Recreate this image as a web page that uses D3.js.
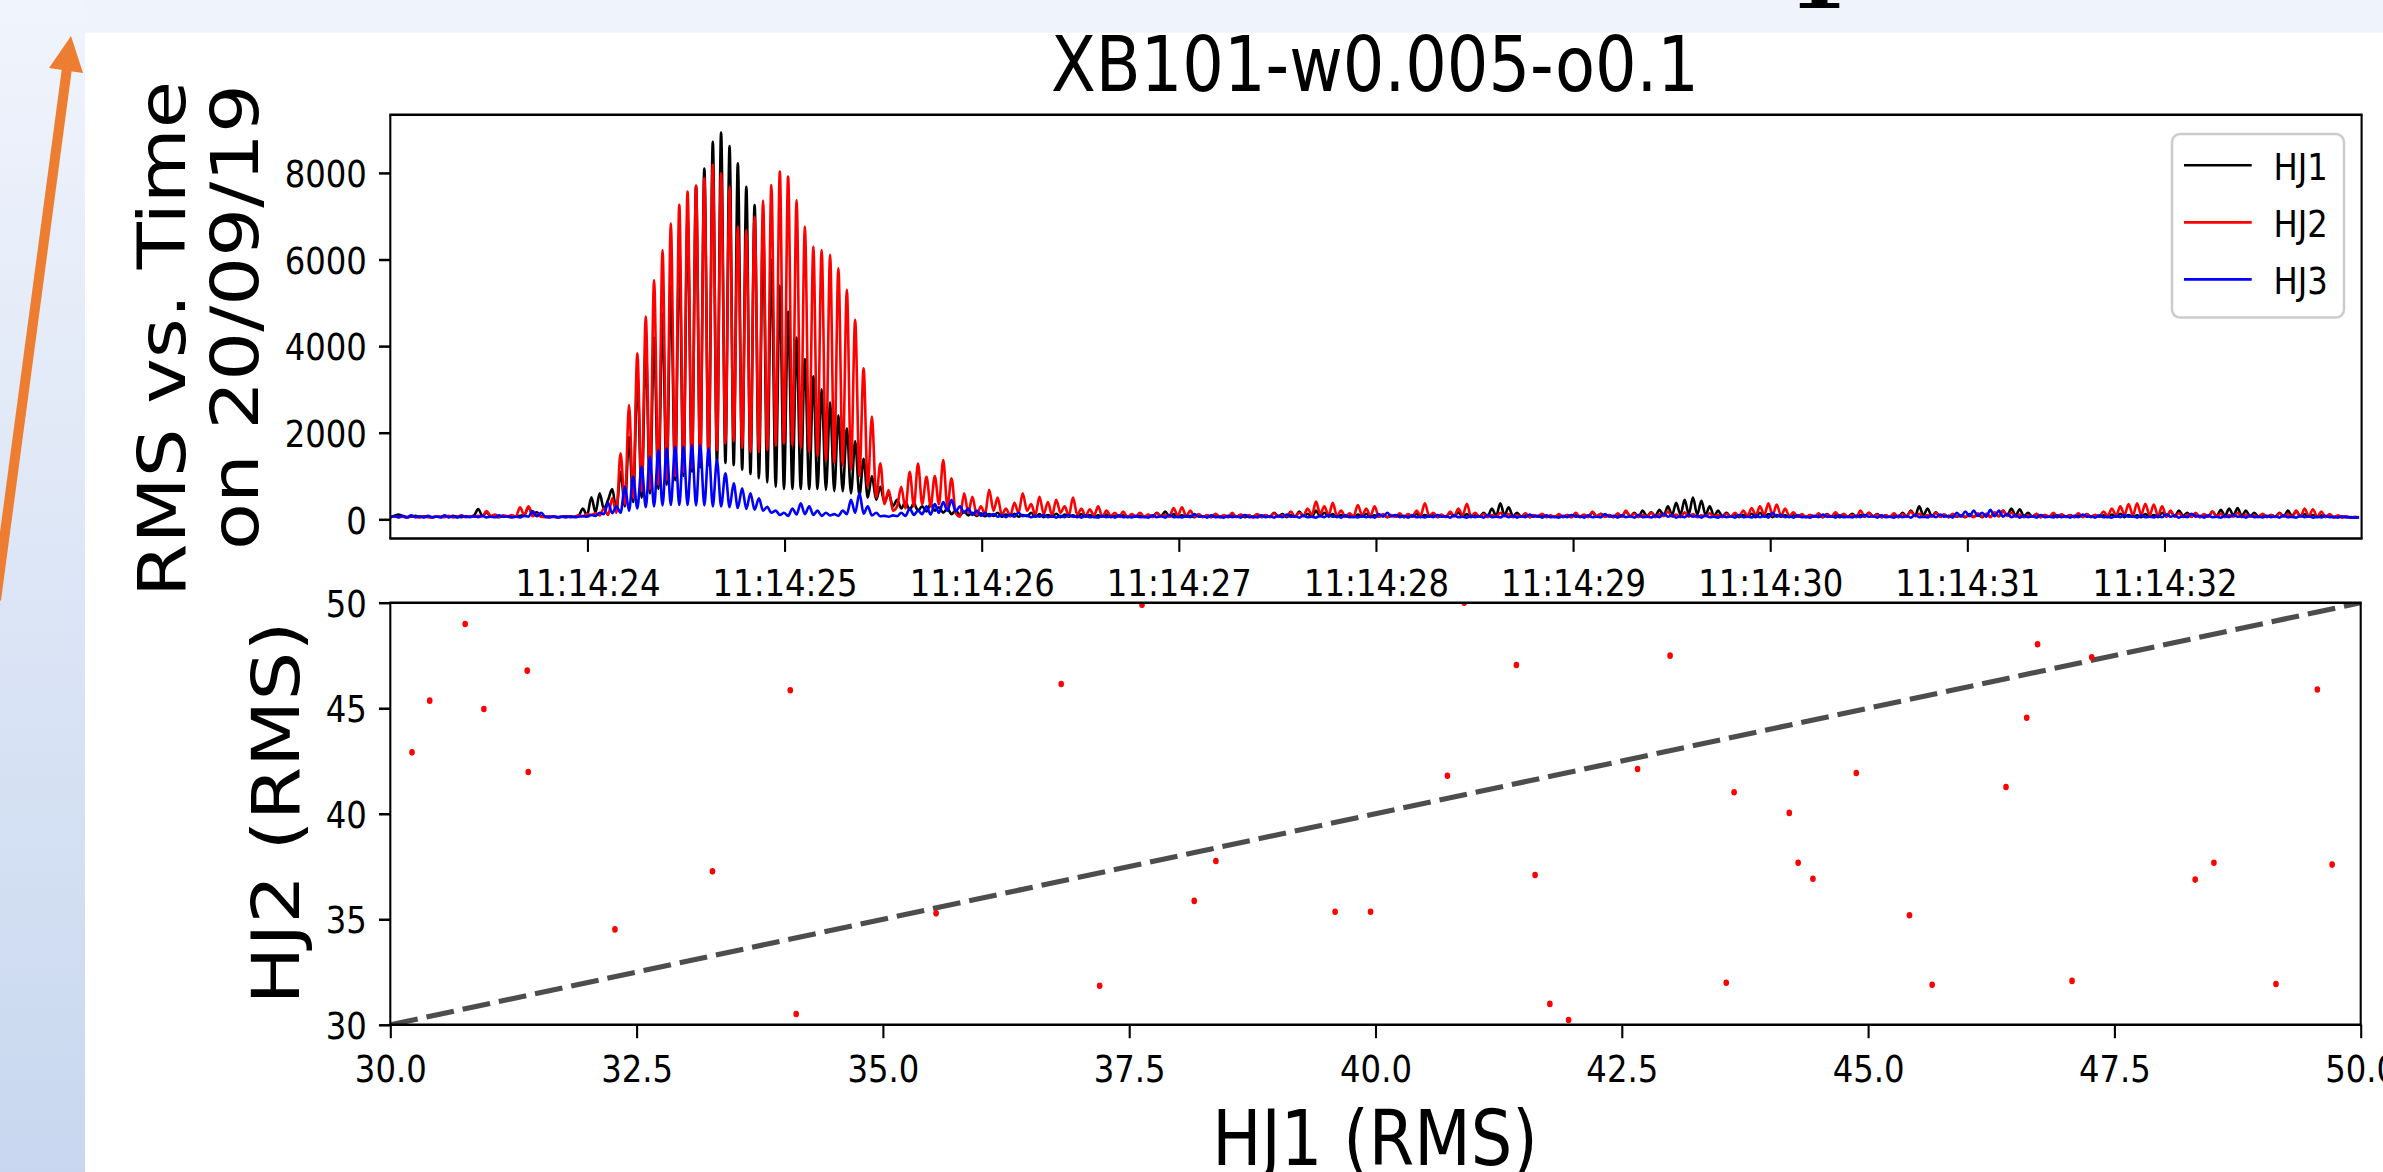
<!DOCTYPE html>
<html>
<head>
<meta charset="utf-8">
<script src="https://cdn.jsdelivr.net/npm/d3@7"></script>
<style>
  html, body { margin: 0; padding: 0; background: #fff; }
  svg { display: block; }
</style>
</head>
<body>
<svg id="chart" width="2383" height="1172"></svg>
<script>
/* ---------- data ---------- */
const seriesNames = ['HJ1', 'HJ2', 'HJ3'];
const sampleStart = '2019-09-20 11:14:23';
const sampleStepMs = 21.25;

// RMS per sample
const hj1Rms = [
  60, 80, 110, 70, 50, 60, 80, 50, 70, 60, 45, 65, 55, 70, 50, 80, 60, 50, 70, 60,
  90, 240, 80, 150, 70, 60, 50, 70, 60, 50, 60, 80, 100, 280, 120, 160, 70, 60, 50, 60,
  50, 60, 70, 50, 60, 90, 250, 90, 510, 160, 600, 250, 450, 700, 200, 1100, 300, 1900, 400, 3300,
  500, 4000, 600, 4200, 700, 4750, 800, 5400, 900, 6300, 1000, 7000, 1100, 7700, 1200, 8100, 1250, 8720, 1300, 8930,
  1300, 8620, 1250, 8220, 1150, 7680, 1050, 7260, 950, 6800, 850, 6000, 750, 5400, 700, 4800, 700, 4200, 700, 3700,
  700, 3300, 700, 3000, 680, 2700, 650, 2400, 650, 2100, 600, 1800, 550, 1400, 500, 1000, 450, 750, 400, 600,
  300, 450, 250, 400, 220, 370, 200, 300, 180, 350, 200, 280, 150, 250, 120, 200, 100, 180, 90, 150,
  80, 140, 70, 120, 80, 150, 60, 110, 70, 130, 60, 100, 70, 150, 60, 120, 50, 100, 60, 130,
  50, 110, 60, 90, 50, 120, 60, 100, 50, 90, 60, 110, 50, 80, 60, 100, 50, 90, 60, 80,
  50, 100, 60, 150, 70, 180, 60, 120, 50, 90, 60, 80, 50, 100, 60, 90, 50, 110, 60, 80,
  50, 90, 60, 100, 50, 80, 60, 110, 50, 90, 60, 150, 70, 120, 50, 100, 60, 180, 70, 130,
  60, 200, 70, 150, 60, 120, 50, 100, 60, 90, 50, 110, 60, 130, 50, 90, 60, 100, 50, 80,
  60, 110, 50, 90, 60, 130, 50, 100, 60, 120, 50, 90, 60, 140, 70, 160, 60, 120, 50, 110,
  60, 150, 70, 250, 80, 370, 90, 280, 70, 150, 60, 110, 50, 90, 60, 100, 50, 80, 60, 90,
  50, 100, 60, 120, 50, 90, 60, 150, 70, 130, 60, 100, 50, 120, 60, 180, 70, 150, 60, 200,
  70, 160, 80, 220, 90, 300, 100, 380, 110, 450, 120, 500, 110, 430, 100, 300, 80, 200, 70, 150,
  60, 120, 50, 100, 60, 130, 50, 150, 60, 120, 50, 100, 60, 90, 50, 110, 60, 80, 50, 100,
  60, 90, 50, 120, 60, 100, 50, 90, 60, 130, 50, 100, 60, 150, 70, 120, 50, 90, 60, 110,
  50, 150, 70, 200, 80, 300, 90, 250, 70, 160, 60, 110, 50, 100, 60, 90, 50, 120, 60, 100,
  50, 130, 60, 150, 70, 200, 80, 250, 90, 230, 70, 150, 60, 120, 50, 100, 60, 90, 50, 110,
  60, 100, 50, 90, 60, 120, 50, 100, 60, 90, 50, 110, 60, 130, 50, 100, 60, 90, 50, 120,
  60, 100, 50, 150, 60, 180, 70, 200, 80, 150, 60, 120, 50, 100, 60, 180, 70, 220, 80, 250,
  90, 260, 80, 200, 70, 150, 60, 110, 50, 100, 60, 150, 70, 200, 80, 180, 70, 120, 60, 100,
  50, 90, 60, 80, 50, 70, 45, 60, 40, 50, 45
];
const hj2Rms = [
  50, 70, 45, 60, 40, 75, 55, 45, 65, 50, 40, 70, 60, 50, 80, 45, 60, 90, 50, 70,
  60, 80, 70, 190, 80, 110, 60, 90, 70, 100, 60, 280, 90, 300, 70, 120, 60, 50, 70, 55,
  45, 60, 50, 70, 60, 90, 70, 120, 100, 140, 90, 250, 100, 485, 150, 1525, 350, 2640, 500, 3835,
  650, 4680, 700, 5528, 800, 6221, 900, 6838, 1000, 7261, 1100, 7568, 1200, 7700, 1350, 7877, 1450, 8185, 1600, 7993,
  1750, 7683, 1800, 6760, 1650, 6683, 1550, 6991, 1550, 7360, 1600, 7722, 1700, 8030, 1750, 7915, 1700, 7376, 1650, 6760,
  1550, 6298, 1450, 6221, 1350, 6106, 1300, 5798, 1250, 5298, 1150, 4605, 1000, 3488, 750, 2371, 500, 1293, 350, 677,
  200, 300, 750, 250, 1100, 300, 1290, 350, 980, 300, 1000, 350, 1370, 300, 950, 150, 60, 600, 150, 520,
  100, 300, 120, 680, 200, 500, 100, 250, 80, 380, 150, 600, 200, 350, 100, 520, 120, 400, 90, 450,
  150, 300, 80, 500, 100, 250, 70, 230, 90, 300, 60, 200, 80, 150, 60, 180, 50, 120, 70, 150,
  60, 110, 50, 140, 70, 100, 60, 260, 80, 280, 70, 200, 60, 120, 50, 90, 60, 130, 45, 100,
  60, 150, 50, 110, 70, 90, 40, 120, 60, 100, 50, 140, 60, 90, 70, 180, 60, 150, 80, 250,
  100, 410, 120, 300, 90, 380, 80, 200, 60, 140, 70, 330, 90, 250, 70, 300, 60, 120, 50, 100,
  60, 140, 50, 120, 70, 200, 90, 370, 80, 150, 60, 110, 50, 180, 70, 250, 90, 360, 70, 150,
  60, 120, 50, 100, 60, 150, 70, 120, 50, 90, 60, 140, 50, 100, 70, 130, 60, 90, 50, 120,
  60, 100, 45, 150, 60, 110, 50, 180, 70, 120, 60, 90, 50, 140, 60, 200, 70, 130, 50, 100,
  60, 150, 50, 120, 70, 180, 60, 110, 50, 160, 60, 120, 50, 90, 70, 140, 60, 100, 50, 130,
  60, 150, 70, 200, 80, 260, 90, 300, 100, 370, 90, 340, 80, 250, 70, 160, 60, 120, 50, 100,
  60, 140, 50, 110, 60, 160, 70, 130, 50, 100, 60, 200, 70, 150, 60, 110, 50, 90, 60, 140,
  50, 120, 60, 180, 70, 130, 50, 100, 60, 150, 60, 110, 50, 130, 70, 100, 60, 90, 50, 140,
  60, 120, 50, 160, 70, 200, 80, 150, 60, 110, 50, 90, 60, 130, 50, 100, 60, 150, 70, 110,
  50, 90, 60, 140, 50, 120, 60, 100, 70, 180, 80, 250, 90, 300, 100, 350, 90, 370, 100, 360,
  90, 340, 80, 300, 70, 200, 60, 140, 50, 110, 60, 150, 50, 120, 60, 180, 70, 130, 50, 100,
  60, 150, 50, 110, 60, 90, 50, 130, 60, 100, 50, 140, 60, 120, 50, 200, 60, 250, 70, 230,
  60, 180, 50, 120, 40, 90, 40, 70, 40, 50, 40
];
const hj3Rms = [
  40, 70, 50, 80, 45, 90, 50, 70, 40, 80, 50, 60, 45, 90, 50, 70, 40, 80, 60, 50,
  70, 50, 80, 45, 60, 50, 90, 60, 70, 50, 60, 45, 80, 60, 190, 70, 150, 60, 50, 70,
  45, 60, 50, 70, 50, 60, 70, 60, 100, 80, 150, 120, 370, 140, 300, 150, 754, 200, 985, 250,
  1216, 280, 1447, 300, 1601, 320, 1640, 330, 1678, 330, 1678, 330, 1716, 320, 1716, 320, 1640, 300, 1370, 300,
  1062, 280, 831, 260, 716, 240, 600, 220, 485, 200, 290, 150, 200, 100, 150, 80, 250, 110, 370, 120,
  300, 100, 200, 80, 150, 90, 120, 80, 200, 120, 450, 150, 600, 130, 300, 90, 150, 70, 80, 60,
  90, 70, 150, 80, 250, 100, 200, 120, 300, 110, 350, 150, 400, 200, 450, 180, 300, 150, 250, 100,
  200, 80, 150, 70, 120, 60, 100, 50, 110, 60, 150, 70, 90, 50, 80, 60, 100, 50, 70, 40,
  80, 50, 100, 60, 70, 40, 90, 50, 60, 40, 80, 50, 70, 40, 90, 50, 60, 45, 80, 50,
  60, 40, 90, 50, 70, 40, 100, 50, 60, 45, 80, 50, 120, 60, 70, 40, 90, 50, 60, 40,
  80, 50, 70, 40, 100, 50, 60, 45, 90, 50, 70, 40, 80, 50, 110, 60, 70, 40, 90, 50,
  60, 40, 80, 50, 100, 60, 70, 40, 90, 50, 60, 45, 80, 50, 70, 40, 120, 60, 150, 70,
  100, 50, 80, 40, 90, 50, 60, 45, 80, 50, 100, 60, 70, 40, 90, 50, 60, 40, 80, 50,
  70, 40, 100, 50, 60, 45, 90, 50, 80, 40, 70, 50, 110, 60, 80, 40, 90, 50, 60, 40,
  80, 50, 100, 60, 70, 40, 90, 50, 60, 45, 120, 60, 80, 40, 90, 50, 70, 40, 100, 50,
  60, 45, 80, 50, 130, 60, 90, 40, 70, 50, 100, 60, 80, 40, 90, 50, 60, 40, 80, 50,
  70, 40, 100, 50, 60, 45, 90, 50, 80, 40, 150, 60, 100, 50, 70, 40, 90, 50, 60, 40,
  80, 50, 110, 60, 70, 40, 90, 50, 60, 45, 80, 50, 100, 60, 70, 40, 90, 50, 60, 40,
  80, 50, 70, 40, 100, 50, 60, 45, 90, 50, 110, 60, 80, 40, 150, 60, 180, 70, 200, 80,
  150, 60, 220, 70, 200, 60, 130, 50, 90, 40, 80, 50, 70, 40, 100, 50, 60, 45, 90, 50,
  70, 40, 80, 50, 110, 60, 70, 40, 90, 50, 60, 40, 80, 50, 100, 60, 70, 40, 90, 50,
  60, 45, 80, 50, 110, 60, 90, 40, 70, 50, 130, 60, 80, 40, 90, 50, 60, 40, 80, 50,
  100, 60, 70, 40, 90, 50, 60, 45, 80, 50, 70, 40, 90, 50, 60, 40, 80, 50, 70, 40,
  60, 45, 80, 50, 60, 40, 70, 45, 50, 40, 45
];

const timeTicks = ['11:14:24', '11:14:25', '11:14:26', '11:14:27', '11:14:28',
                   '11:14:29', '11:14:30', '11:14:31', '11:14:32'];
const rmsTicks = [0, 2000, 4000, 6000, 8000];

// scatter: HJ1 vs HJ2 (RMS)
const scatterHJ1 = [30.22, 30.40, 30.76, 30.95, 31.39, 31.40, 32.28, 33.27, 34.06, 34.12, 35.54,
  36.81, 37.20, 37.63, 38.16, 38.38, 39.59, 39.95, 40.73, 40.90, 41.43, 41.62, 41.77, 41.96,
  42.66, 42.99, 43.56, 43.64, 44.20, 44.29, 44.44, 44.88, 45.42, 45.65, 46.40, 46.61, 46.72,
  47.07, 47.27, 48.32, 48.51, 49.14, 49.56, 49.71];
const scatterHJ2 = [42.91, 45.36, 48.99, 44.96, 46.78, 41.98, 34.52, 37.27, 45.85, 30.51, 35.28,
  46.15, 31.85, 49.90, 35.87, 37.76, 35.36, 35.36, 41.80, 50.00, 47.05, 37.10, 30.99, 30.23,
  42.12, 47.49, 31.99, 41.02, 40.04, 37.68, 36.92, 41.93, 35.19, 31.90, 41.27, 44.55, 48.03,
  32.08, 47.41, 36.88, 37.68, 31.93, 45.89, 37.59];
const hj1Ticks = [30, 32.5, 35, 37.5, 40, 42.5, 45, 47.5, 50];
const hj2Ticks = [30, 35, 40, 45, 50];

/* ---------- layout ---------- */
const W = 2383, H = 1172;
const SX = 0.85;               // figure is squeezed sideways on the slide
const FONT = '"DejaVu Sans", sans-serif';
const TICK_FS = 38, LABEL_FS = 77;
const colors = { HJ1: '#000000', HJ2: '#ff0000', HJ3: '#0000ff' };

const topBox = { left: 390.3, right: 2361.6, top: 114.8, bottom: 538.5 };
const botBox = { left: 390.3, right: 2360.7, top: 602.7, bottom: 1024.8 };

const svg = d3.select('#chart');

/* ---------- slide background ---------- */
const defs = svg.append('defs');
const grad = defs.append('linearGradient').attr('id', 'slideGrad')
  .attr('x1', 0).attr('y1', 0).attr('x2', 0).attr('y2', 1);
grad.append('stop').attr('offset', '0%').attr('stop-color', '#f0f4fc');
grad.append('stop').attr('offset', '100%').attr('stop-color', '#c8d7ef');

svg.append('rect').attr('width', W).attr('height', H).attr('fill', 'url(#slideGrad)');
svg.append('rect').attr('x', 85).attr('y', 0).attr('width', W - 85).attr('height', 33)
  .attr('fill', '#eff3fc');
svg.append('rect').attr('x', 85).attr('y', 32.7).attr('width', W - 85).attr('height', H - 32.7)
  .attr('fill', '#ffffff');

// bottom of the slide title, cut off by the top edge
svg.append('text')
  .attr('x', 1818).attr('y', 8.4)
  .attr('text-anchor', 'middle')
  .attr('font-family', '"DejaVu Serif", serif')
  .attr('font-weight', 'bold')
  .attr('font-size', 86)
  .attr('fill', '#000')
  .text('1');

// orange arrow
svg.append('line')
  .attr('x1', -4).attr('y1', 600).attr('x2', 67).attr('y2', 68)
  .attr('stroke', '#ed7d31').attr('stroke-width', 10);
svg.append('polygon')
  .attr('points', '71,36 49,68 83,73')
  .attr('fill', '#ed7d31');

/* ---------- helpers ---------- */
function squish(x, y, rot) {
  return `translate(${x},${y}) scale(${SX},1)` + (rot ? ` rotate(${rot})` : '');
}

function addText(parent, str, x, y, size, anchor, rot) {
  return parent.append('text')
    .attr('transform', squish(x, y, rot))
    .attr('text-anchor', anchor || 'middle')
    .attr('font-family', FONT)
    .attr('font-size', size)
    .attr('fill', '#000')
    .text(str);
}

function styleLeft(g) {
  g.attr('font-family', null).attr('font-size', null);
  g.select('.domain').remove();
  g.selectAll('.tick line').attr('stroke', '#000').attr('stroke-width', 2.5);
  g.selectAll('.tick text')
    .attr('x', null).attr('dy', '0.36em')
    .attr('fill', '#000')
    .attr('font-family', FONT).attr('font-size', TICK_FS)
    .attr('text-anchor', 'end')
    .attr('transform', squish(-23.5, 0));
}

function styleBottom(g) {
  g.attr('font-family', null).attr('font-size', null);
  g.select('.domain').remove();
  g.selectAll('.tick line').attr('stroke', '#000').attr('stroke-width', 2.1);
  g.selectAll('.tick text')
    .attr('y', null).attr('dy', null)
    .attr('fill', '#000')
    .attr('font-family', FONT).attr('font-size', TICK_FS)
    .attr('text-anchor', 'middle')
    .attr('transform', squish(0, 57));
}

function drawFrame(box) {
  const f = svg.append('g').attr('stroke', '#000').attr('fill', 'none');
  f.append('line').attr('x1', box.left - 1).attr('x2', box.right + 1)
    .attr('y1', box.top).attr('y2', box.top).attr('stroke-width', 2.5);
  f.append('line').attr('x1', box.left - 1).attr('x2', box.right + 1)
    .attr('y1', box.bottom).attr('y2', box.bottom).attr('stroke-width', 2.5);
  f.append('line').attr('x1', box.left).attr('x2', box.left)
    .attr('y1', box.top).attr('y2', box.bottom).attr('stroke-width', 2.1);
  f.append('line').attr('x1', box.right).attr('x2', box.right)
    .attr('y1', box.top).attr('y2', box.bottom).attr('stroke-width', 2.1);
}

function addClip(id, box) {
  defs.append('clipPath').attr('id', id)
    .append('rect')
    .attr('x', box.left).attr('y', box.top)
    .attr('width', box.right - box.left).attr('height', box.bottom - box.top);
}

/* ---------- top panel: RMS vs time ---------- */
const parseFull = d3.utcParse('%Y-%m-%d %H:%M:%S');
const t0 = parseFull(sampleStart);
const day = sampleStart.slice(0, 11);
const tickDates = timeTicks.map(s => parseFull(day + s));

const xTime = d3.scaleUtc()
  .domain([t0, new Date(t0.getTime() + 10000)])
  .range([topBox.left, topBox.right]);
const yRms = d3.scaleLinear()
  .domain([-443, 9342])
  .range([topBox.bottom, topBox.top]);

addClip('clipTop', topBox);

const rmsLine = d3.line()
  .x((d, i) => xTime(new Date(t0.getTime() + i * sampleStepMs)))
  .y(d => yRms(d))
  .curve(d3.curveMonotoneX);

const plotTop = svg.append('g').attr('clip-path', 'url(#clipTop)');
[hj1Rms, hj2Rms, hj3Rms].forEach((vals, k) => {
  plotTop.append('path')
    .datum(vals)
    .attr('d', rmsLine)
    .attr('fill', 'none')
    .attr('stroke', colors[seriesNames[k]])
    .attr('stroke-width', 2.6)
    .attr('stroke-linejoin', 'round');
});

svg.append('g')
  .attr('transform', `translate(${topBox.left},0)`)
  .call(d3.axisLeft(yRms).tickValues(rmsTicks).tickFormat(d3.format('d'))
    .tickSize(11.3).tickSizeOuter(0))
  .call(styleLeft);

svg.append('g')
  .attr('transform', `translate(0,${topBox.bottom})`)
  .call(d3.axisBottom(xTime).tickValues(tickDates).tickFormat(d3.utcFormat('%H:%M:%S'))
    .tickSize(13.4).tickSizeOuter(0))
  .call(styleBottom);

drawFrame(topBox);

// legend
const legend = svg.append('g');
legend.append('rect')
  .attr('x', 2172).attr('y', 134).attr('width', 172).attr('height', 183.6)
  .attr('rx', 8).attr('ry', 8)
  .attr('fill', '#ffffff').attr('fill-opacity', 0.8)
  .attr('stroke', '#cccccc').attr('stroke-width', 2.5);
seriesNames.forEach((name, i) => {
  const ly = 165.3 + i * 57.05;
  legend.append('line')
    .attr('x1', 2184).attr('x2', 2251.7).attr('y1', ly).attr('y2', ly)
    .attr('stroke', colors[name]).attr('stroke-width', 2.6);
  addText(legend, name, 2273.5, ly + 14.2, TICK_FS, 'start');
});

// title and y label
addText(svg, 'XB101-w0.005-o0.1', 1375, 90.7, LABEL_FS, 'middle');
addText(svg, 'RMS vs. Time', 185, 339, LABEL_FS, 'middle', -90);
addText(svg, 'on 20/09/19', 258, 317, LABEL_FS, 'middle', -90);

/* ---------- bottom panel: HJ2 vs HJ1 ---------- */
const xHJ1 = d3.scaleLinear().domain([30, 50]).range([botBox.left, botBox.right]);
const yHJ2 = d3.scaleLinear().domain([30, 50]).range([botBox.bottom, botBox.top]);

addClip('clipBot', botBox);
const plotBot = svg.append('g').attr('clip-path', 'url(#clipBot)');

plotBot.append('line')
  .attr('x1', xHJ1(30)).attr('y1', yHJ2(30))
  .attr('x2', xHJ1(50)).attr('y2', yHJ2(50))
  .attr('stroke', '#4d4d4d')
  .attr('stroke-width', 5.2)
  .attr('stroke-dasharray', '28,9');

plotBot.selectAll('ellipse')
  .data(scatterHJ1.map((v, i) => [v, scatterHJ2[i]]))
  .join('ellipse')
  .attr('cx', d => xHJ1(d[0]))
  .attr('cy', d => yHJ2(d[1]))
  .attr('rx', 3.3 * SX)
  .attr('ry', 3.3)
  .attr('fill', '#ff0000');

svg.append('g')
  .attr('transform', `translate(${botBox.left},0)`)
  .call(d3.axisLeft(yHJ2).tickValues(hj2Ticks).tickFormat(d3.format('d'))
    .tickSize(11.3).tickSizeOuter(0))
  .call(styleLeft);

svg.append('g')
  .attr('transform', `translate(0,${botBox.bottom})`)
  .call(d3.axisBottom(xHJ1).tickValues(hj1Ticks).tickFormat(d3.format('.1f'))
    .tickSize(13.4).tickSizeOuter(0))
  .call(styleBottom);

drawFrame(botBox);

addText(svg, 'HJ1 (RMS)', 1375, 1164.7, LABEL_FS, 'middle');
addText(svg, 'HJ2 (RMS)', 298.5, 813, LABEL_FS, 'middle', -90);
</script>
</body>
</html>
